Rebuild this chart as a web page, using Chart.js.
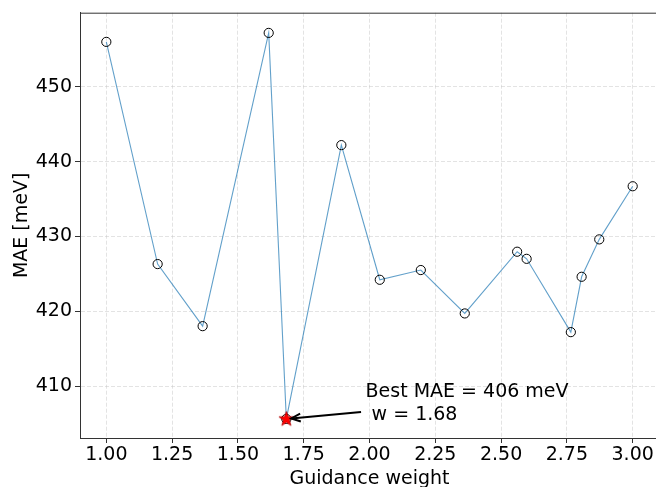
<!DOCTYPE html>
<html>
<head>
<meta charset="utf-8">
<script src="https://cdn.jsdelivr.net/npm/chart.js@4.4.1/dist/chart.umd.min.js"></script>
<style>
  html, body { margin: 0; padding: 0; background: #fff; overflow: hidden; }
  #wrap { width: 656px; height: 487px; overflow: hidden; }
  canvas { display: block; }
</style>
</head>
<body>
<div id="wrap"><canvas id="myChart" width="659" height="487"></canvas></div>
<script>
// guidance weight vs MAE
const weights = [1.00, 1.195, 1.366, 1.617, 1.684, 1.893, 2.039, 2.195, 2.362, 2.561, 2.597, 2.765, 2.806, 2.873, 3.00];
const mae = [456.0, 426.3, 418.0, 457.2, 405.6, 442.2, 424.2, 425.5, 419.7, 427.95, 427.0, 417.2, 424.6, 429.6, 436.7];
const xTicks = [1.00, 1.25, 1.50, 1.75, 2.00, 2.25, 2.50, 2.75, 3.00];
const yTicks = [410, 420, 430, 440, 450];

const FONT = "'DejaVu Sans', sans-serif";
const FS = 19;

// best point
let bestIdx = 0;
mae.forEach((v, i) => { if (v < mae[bestIdx]) bestIdx = i; });

// red star marker image
const star = document.createElement('canvas');
star.width = 17; star.height = 17;
(function () {
  const c = star.getContext('2d');
  c.beginPath();
  for (let k = 0; k < 10; k++) {
    const r = k % 2 === 0 ? 7.8 : 3.2;
    const a = -Math.PI / 2 + k * Math.PI / 5;
    const px = 8.5 + r * Math.cos(a), py = 8.8 + r * Math.sin(a);
    if (k === 0) c.moveTo(px, py); else c.lineTo(px, py);
  }
  c.closePath();
  c.fillStyle = '#ff0000';
  c.fill();
  c.lineWidth = 0.8;
  c.strokeStyle = '#b00000';
  c.stroke();
})();

const topSpine = {
  id: 'topSpine',
  afterDraw(chart) {
    const {ctx, chartArea} = chart;
    ctx.save();
    ctx.strokeStyle = '#333';
    ctx.lineWidth = 1;
    ctx.beginPath();
    ctx.moveTo(chartArea.left, chartArea.top + 0.5);
    ctx.lineTo(chartArea.right, chartArea.top + 0.5);
    ctx.stroke();
    ctx.restore();
  }
};

const bestNote = {
  id: 'bestNote',
  afterDatasetsDraw(chart) {
    const {ctx, scales} = chart;
    const px = scales.x.getPixelForValue(weights[bestIdx]);
    const py = scales.y.getPixelForValue(mae[bestIdx]);
    const tx = scales.x.getPixelForValue(1.985);
    const ty = scales.y.getPixelForValue(408.5);
    ctx.save();
    ctx.font = FS + 'px ' + FONT;
    ctx.fillStyle = '#000';
    ctx.textAlign = 'left';
    ctx.textBaseline = 'alphabetic';
    ctx.fillText('Best MAE = ' + Math.round(mae[bestIdx]) + ' meV', tx, ty);
    ctx.fillText(' w = ' + weights[bestIdx].toFixed(2), tx, ty + 22.5);

    // arrow
    const ax = tx - 4.5, ay = ty + 14.7;
    const ang = Math.atan2(py - ay, px - ax);
    const hx = px - 5 * Math.cos(ang), hy = py - 5 * Math.sin(ang);
    ctx.strokeStyle = '#000';
    ctx.lineWidth = 2;
    ctx.lineCap = 'butt';
    ctx.beginPath();
    ctx.moveTo(ax, ay);
    ctx.lineTo(hx, hy);
    ctx.stroke();
    ctx.beginPath();
    const hl = 10, hw = 0.4;
    ctx.moveTo(hx - hl * Math.cos(ang - hw), hy - hl * Math.sin(ang - hw));
    ctx.lineTo(hx, hy);
    ctx.lineTo(hx - hl * Math.cos(ang + hw), hy - hl * Math.sin(ang + hw));
    ctx.stroke();
    ctx.restore();
  }
};

const ctx = document.getElementById('myChart');
const chart = new Chart(ctx, {
  type: 'scatter',
  data: {
    datasets: [{
      label: 'best',
      data: [{x: weights[bestIdx], y: mae[bestIdx]}],
      pointStyle: star,
      pointRadius: 8,
      order: 0
    }, {
      label: 'MAE',
      data: weights.map((w, i) => ({x: w, y: mae[i]})),
      showLine: true,
      borderColor: 'rgba(31,119,180,0.7)',
      borderWidth: 1.1,
      pointRadius: 4.6,
      pointBorderWidth: 1,
      pointBorderColor: '#000',
      pointBackgroundColor: 'rgba(0,0,0,0)',
      order: 1
    }]
  },
  options: {
    responsive: false,
    animation: false,
    devicePixelRatio: 1,
    layout: { autoPadding: false, padding: { top: 12.7, right: 0, left: 0, bottom: 0 } },
    plugins: { legend: { display: false }, tooltip: { enabled: false } },
    scales: {
      x: {
        type: 'linear',
        min: 0.9,
        max: 3.1,
        afterBuildTicks: s => { s.ticks = xTicks.map(v => ({value: v})); },
        afterFit: s => { s.height = 49; s.paddingLeft = 0; s.paddingRight = 0; },
        ticks: {
          autoSkip: false, maxRotation: 0, padding: 1,
          color: '#000', font: {family: FONT, size: FS},
          callback: v => Number(v).toFixed(2)
        },
        grid: { color: 'rgba(200,200,200,0.5)', lineWidth: 1, tickLength: 5, tickColor: '#333', tickWidth: 1 },
        border: { color: '#333', width: 1, dash: [4, 2] },
        title: { display: true, text: 'Guidance weight', color: '#000', font: {family: FONT, size: FS}, padding: {top: 0, bottom: -3.6} }
      },
      y: {
        min: 403.05,
        max: 459.9,
        afterBuildTicks: s => { s.ticks = yTicks.map(v => ({value: v})); },
        afterFit: s => { s.width = 80; s.paddingTop = 0; s.paddingBottom = 0; },
        ticks: { padding: 3, color: '#000', font: {family: FONT, size: FS} },
        grid: { color: 'rgba(200,200,200,0.5)', lineWidth: 1, tickLength: 5, tickColor: '#333', tickWidth: 1 },
        border: { color: '#333', width: 1, dash: [4, 2] },
        title: { display: true, text: 'MAE [meV]', color: '#000', font: {family: FONT, size: FS}, padding: {top: 10.6, bottom: 0} }
      }
    }
  },
  plugins: [topSpine, bestNote]
});
</script>
</body>
</html>
